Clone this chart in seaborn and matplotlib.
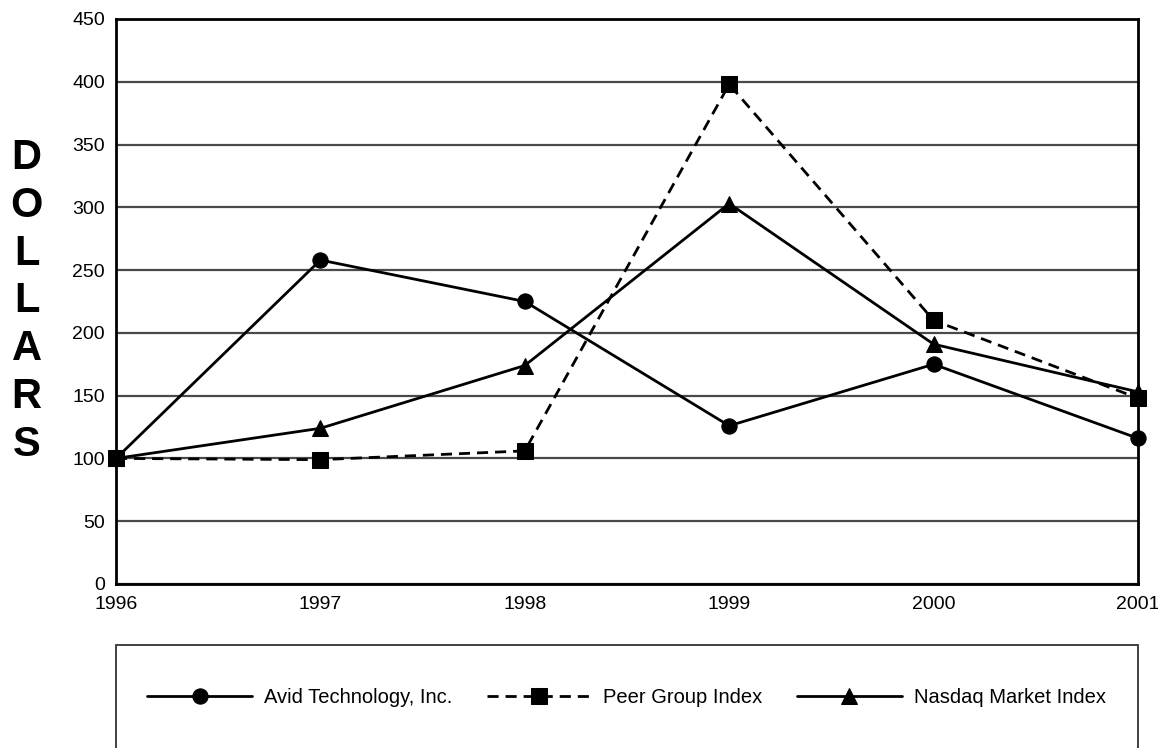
import seaborn as sns
import matplotlib.pyplot as plt
import pandas as pd
from matplotlib.patches import Rectangle

years = [1996, 1997, 1998, 1999, 2000, 2001]
avid = [100, 258, 225, 126, 175, 116]
peer = [100, 99, 106, 398, 210, 148]
nasdaq = [100, 124, 174, 303, 191, 153]
series_names = ["Avid Technology, Inc.", "Peer Group Index", "Nasdaq Market Index"]
yticks = list(range(0, 451, 50))

df = pd.DataFrame({
    "year": years * 3,
    "value": avid + peer + nasdaq,
    "series": [s for s in series_names for _ in years],
})

sns.set_style("white")
plt.rcParams["font.family"] = ["Liberation Sans", "DejaVu Sans"]
plt.rcParams["text.color"] = "black"
plt.rcParams["xtick.color"] = "black"
plt.rcParams["ytick.color"] = "black"

fig = plt.figure(figsize=(11.58, 7.48), dpi=100)
ax = fig.add_axes([0.1002, 0.2193, 0.8825, 0.7553])

sns.lineplot(
    data=df, x="year", y="value",
    hue="series", style="series",
    palette=["black"] * 3,
    markers={series_names[0]: "o", series_names[1]: "s", series_names[2]: "^"},
    dashes={series_names[0]: "", series_names[1]: (4, 2.5), series_names[2]: ""},
    markersize=11, linewidth=2, markeredgecolor="black",
    clip_on=False, zorder=5, ax=ax,
)

ax.set_xlim(1996, 2001)
ax.set_ylim(0, 450)
ax.set_yticks(yticks)
ax.set_xticks(years)
ax.set_xticklabels([str(y) for y in years])
ax.yaxis.grid(True, color="#4a4a4a", linewidth=1.6)
ax.set_axisbelow(True)
for side in ["left", "right", "top", "bottom"]:
    ax.spines[side].set_visible(True)
    ax.spines[side].set_color("black")
    ax.spines[side].set_linewidth(2)
ax.tick_params(axis="x", direction="in", length=7, width=1, pad=9, labelsize=14)
ax.tick_params(axis="y", length=0, pad=8, labelsize=14)
ax.set_xlabel("")
ax.set_ylabel("")

fig.text(0.023, 0.597, "\n".join("DOLLARS"), ha="center", va="center",
         fontsize=30, fontweight="bold", linespacing=1.255)

handles, labels = ax.get_legend_handles_labels()
ax.get_legend().remove()
fig.legend(handles, labels, loc="center", bbox_to_anchor=(0.541, 0.068), ncol=3,
           frameon=False, fontsize=14.5, handlelength=5.2, columnspacing=1.7,
           handletextpad=0.6)
fig.patches.append(Rectangle((0.1002, -0.05), 0.8825, 0.188, transform=fig.transFigure,
                             fill=False, edgecolor="#333333", linewidth=1.3))

fig.savefig("out.png", dpi=100)
